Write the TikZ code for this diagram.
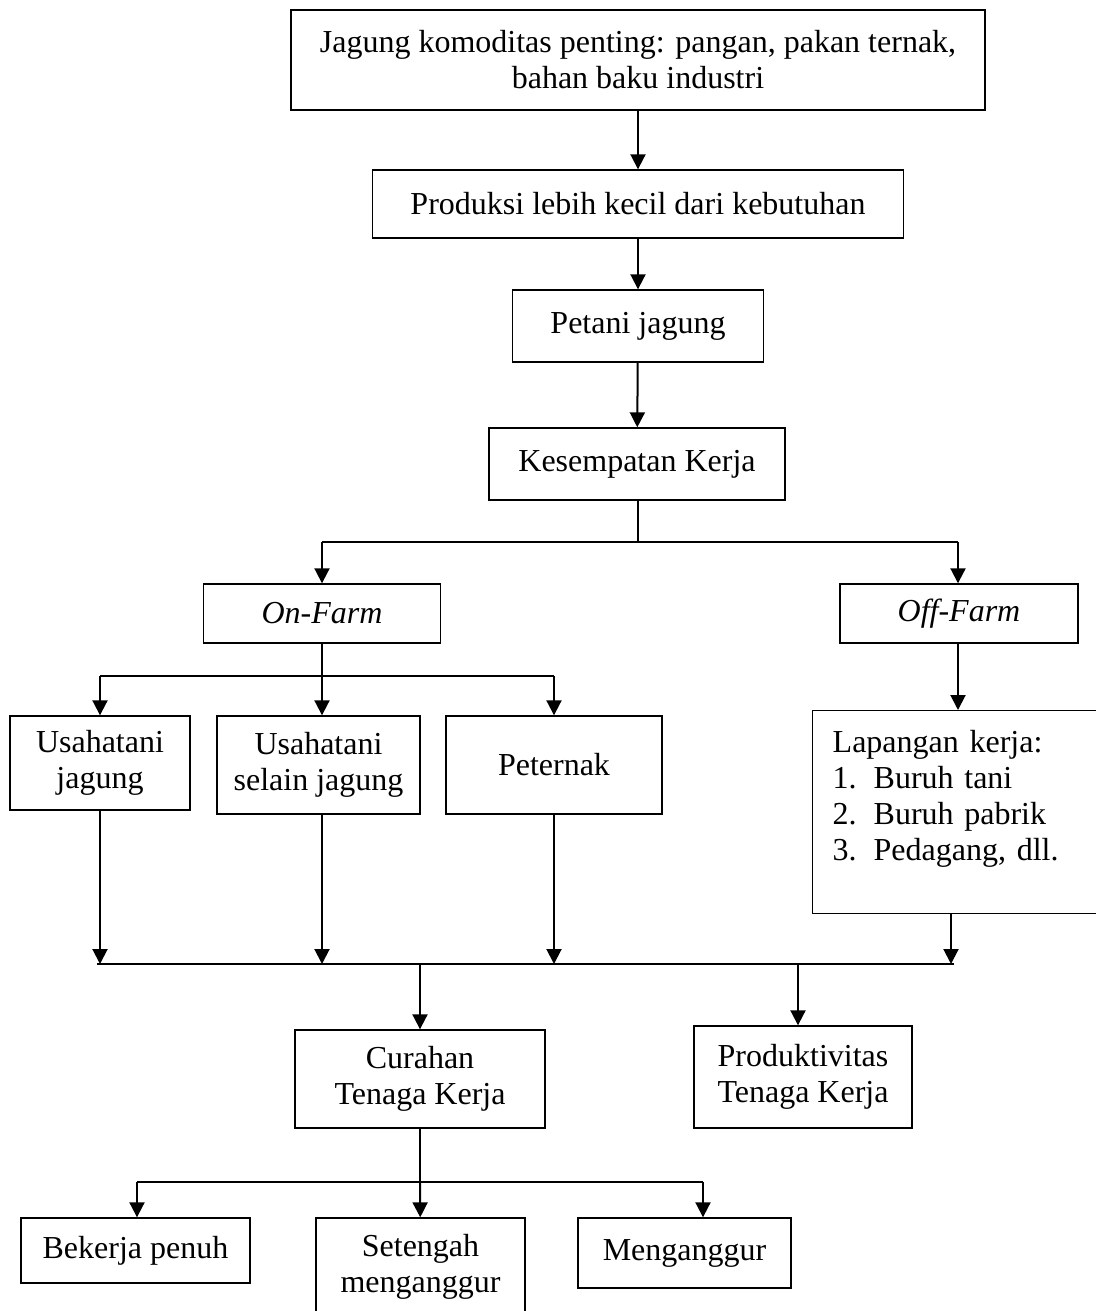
\documentclass[tikz,border=0pt]{standalone}
\usepackage{fontspec}
\setmainfont{Liberation Serif}
\usepackage{tikz}
\usetikzlibrary{arrows.meta}

\begin{document}
\begin{tikzpicture}[x=0.5pt, y=-0.5pt,
  box/.style={draw, line width=0.7pt, align=center, inner sep=0pt,
    font=\fontsize{16pt}{18pt}\selectfont},
  arr/.style={line width=1pt, -{Triangle[length=7.5pt, width=7.5pt]}},
  bus/.style={line width=1.4pt}]
  \useasboundingbox (0,0) rectangle (1096,1311);

  % Main column
  \node[box, minimum width=347pt, minimum height=50pt] (top) at (638,60)
    {Jagung komoditas penting: pangan, pakan ternak,\\bahan baku industri};
  \node[box, minimum width=265.5pt, minimum height=34pt] (prod) at (638,204)
    {Produksi lebih kecil dari kebutuhan};
  \node[box, minimum width=125.5pt, minimum height=36pt] (petani) at (638,326)
    {Petani jagung};
  \node[box, minimum width=148pt, minimum height=36pt] (kes) at (637,464)
    {Kesempatan Kerja};

  \draw[arr] (top) -- (prod);
  \draw[arr] (prod) -- (petani);
  \draw[arr] (petani) -- (kes);

  % On-farm / off-farm split
  \node[box, minimum width=118.5pt, minimum height=29.5pt] (onfarm) at (322,613.5)
    {\textit{On-Farm}};
  \node[box, minimum width=119pt, minimum height=29.5pt] (offfarm) at (959,613.5)
    {\textit{Off-Farm}};

  \coordinate (b1) at (638,542);
  \coordinate (b1l) at (322,542);
  \coordinate (b1r) at (958,542);
  \draw[bus] (kes.south -| b1) -- (b1);
  \draw[bus] (b1l) -- (b1r);
  \draw[arr] (b1l) -- (onfarm);
  \draw[arr] (b1r) -- (b1r |- offfarm.north);

  % On-farm activities
  \node[box, minimum width=90pt, minimum height=47pt] (usjag) at (100,763)
    {Usahatani\\jagung};
  \node[box, minimum width=101.5pt, minimum height=49pt] (ussel) at (318.5,765)
    {Usahatani\\selain jagung};
  \node[box, minimum width=108pt, minimum height=49pt] (ternak) at (554,765)
    {Peternak};

  \coordinate (b2) at (322,676);
  \coordinate (b2l) at (100,676);
  \coordinate (b2r) at (554,676);
  \draw[bus] (onfarm) -- (b2);
  \draw[bus] (b2l) -- (b2r);
  \draw[arr] (b2l) -- (usjag);
  \draw[arr] (b2) -- (b2 |- ussel.north);
  \draw[arr] (b2r) -- (ternak);

  % Off-farm work
  \node[box, anchor=north west, text width=124pt, align=left, inner xsep=10pt,
    text height=21pt, text depth=80.5pt] (lap) at (812,710)
    {Lapangan kerja:\\
     \makebox[20.5pt][l]{1.}Buruh tani\\
     \makebox[20.5pt][l]{2.}Buruh pabrik\\
     \makebox[20.5pt][l]{3.}Pedagang, dll.};
  \draw[arr] (offfarm.south -| b1r) -- (b1r |- lap.north);

  % Collector line
  \coordinate (b3) at (420,964);
  \coordinate (b3l) at (97,964);
  \coordinate (b3r) at (954,964);
  \coordinate (b3p) at (798,964);
  \draw[bus] (b3l) -- (b3r);
  \draw[arr] (usjag.south) -- (usjag.south |- b3);
  \draw[arr] (ussel.south -| b2) -- (b2 |- b3);
  \draw[arr] (ternak.south) -- (ternak.south |- b3);
  \draw[arr] (lap.south -| 951,0) -- (951,964);

  % Labour outcomes
  \node[box, minimum width=125pt, minimum height=49pt] (curahan) at (420,1079)
    {Curahan\\Tenaga Kerja};
  \node[box, minimum width=109pt, minimum height=51pt] (produk) at (803,1077)
    {Produktivitas\\Tenaga Kerja};
  \draw[arr] (b3) -- (curahan);
  \draw[arr] (b3p) -- (b3p |- produk.north);

  % Employment status
  \node[box, minimum width=114.5pt, minimum height=32.5pt] (penuh) at (135.5,1250.5)
    {Bekerja penuh};
  \node[box, minimum width=104.5pt, minimum height=49pt] (setengah) at (420.5,1267)
    {Setengah\\menganggur};
  \node[box, minimum width=106.5pt, minimum height=35pt] (nganggur) at (684.5,1253)
    {Menganggur};

  \coordinate (b4) at (420,1182);
  \coordinate (b4l) at (137,1182);
  \coordinate (b4r) at (703,1182);
  \draw[bus] (curahan) -- (b4);
  \draw[bus] (b4l) -- (b4r);
  \draw[arr] (b4l) -- (b4l |- penuh.north);
  \draw[arr] (b4) -- (setengah);
  \draw[arr] (b4r) -- (b4r |- nganggur.north);
\end{tikzpicture}
\end{document}
